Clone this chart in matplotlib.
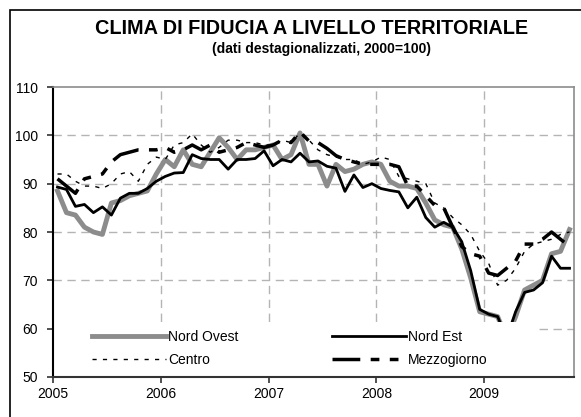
"""
Clima di fiducia a livello territoriale (dati destagionalizzati, 2000=100)
"""

import numpy as np
import matplotlib
matplotlib.use("Agg")
import matplotlib.pyplot as plt
from matplotlib.patches import Rectangle

# monthly values, Jan 2005 - Oct 2009
nord_ovest = [88.5, 84.0, 83.5, 81.0, 80.0, 79.5, 86.0, 86.5, 87.5, 88.0, 88.5, 92.0,
              95.0, 93.5, 97.0, 94.0, 93.5, 96.5, 99.5, 97.5, 95.0, 97.0, 97.0, 97.5,
              98.0, 95.0, 96.0, 100.5, 94.0, 94.0, 89.5, 94.0, 92.5, 93.0, 94.0, 94.5,
              94.0, 90.5, 89.5, 89.5, 89.0, 86.0, 82.5, 81.5, 81.0, 76.5, 70.5, 63.5,
              63.0, 62.5, 58.0, 62.5, 68.0, 69.0, 70.0, 75.5, 76.0, 80.5]
nord_est = [89.3, 88.8, 85.3, 85.7, 84.0, 85.2, 83.5, 87.0, 88.0, 88.0, 89.0, 90.5,
            91.5, 92.2, 92.3, 96.0, 95.2, 95.0, 95.0, 93.0, 95.0, 95.0, 95.2, 96.8,
            93.7, 95.0, 94.5, 96.3, 94.5, 94.7, 93.6, 93.2, 88.4, 91.8, 89.2, 90.0,
            89.0, 88.6, 88.3, 85.0, 87.2, 83.0, 81.0, 82.0, 81.0, 78.0, 72.0, 64.0,
            63.0, 62.5, 58.0, 63.5, 67.5, 68.0, 69.5, 75.0, 72.5, 72.5]
centro = [92.0, 92.0, 90.5, 89.5, 89.5, 89.0, 90.0, 92.0, 92.5, 90.5, 94.0, 95.5,
          95.0, 98.0, 98.5, 100.3, 98.0, 96.5, 97.5, 99.0, 99.0, 98.5, 98.5, 98.0,
          98.0, 99.0, 98.5, 100.5, 99.0, 97.0, 96.0, 95.5, 95.0, 95.0, 94.0, 94.5,
          95.5, 95.0, 91.5, 91.0, 90.5, 90.0, 86.0, 85.0, 83.0, 81.5, 79.5, 76.0,
          73.5, 69.0, 70.0, 72.5, 76.0, 77.5, 78.0, 78.5, 79.5, 80.0]
mezzogiorno = [91.0, 89.5, 88.0, 91.0, 91.5, 92.0, 94.5, 96.0, 96.5, 97.0, 97.0, 97.0,
               97.5, 96.5, 97.0, 98.0, 97.0, 98.0, 96.5, 97.0, 97.5, 98.5, 98.0, 97.5,
               98.0, 99.0, 98.5, 100.7, 98.8, 98.5, 97.3, 95.8, 95.0, 94.5, 94.0, 94.0,
               94.0, 94.0, 93.5, 89.5, 89.5, 87.5, 85.5, 85.0, 81.0, 77.0, 75.5, 75.0,
               71.5, 71.0, 72.5, 74.0, 77.5, 77.5, 78.5, 80.0, 78.5, 77.0]
years = ["2005", "2006", "2007", "2008", "2009"]
y_ticks = [50, 60, 70, 80, 90, 100, 110]


def plot_clima() -> plt.Figure:
    """Draw the chart and return the figure."""
    plt.rcParams["font.family"] = ["Liberation Sans", "DejaVu Sans"]
    fig = plt.figure(figsize=(5.81, 4.17), dpi=100)
    ax = fig.add_axes([53 / 581, 1 - 377 / 417, 521 / 581, 290 / 417])

    x = np.arange(len(nord_ovest))
    l_no, = ax.plot(x, nord_ovest, color="#8c8c8c", lw=3.5, zorder=2)
    l_ne, = ax.plot(x, nord_est, color="black", lw=2.0, zorder=3)
    l_ce, = ax.plot(x, centro, color="black", lw=1.0, dashes=(3, 4.5), zorder=4)
    l_me, = ax.plot(x, mezzogiorno, color="black", lw=2.5,
                    dashes=(8, 3, 2.5, 3, 2.5, 3), zorder=4)

    ax.set_xlim(-0.5, 57.5)
    ax.set_ylim(50, 110)
    ax.set_xticks([-0.5 + 12 * k for k in range(len(years))])
    ax.set_xticklabels(years, fontsize=10)
    ax.set_yticks(y_ticks)
    ax.set_yticklabels([str(v) for v in y_ticks], fontsize=10)
    ax.tick_params(direction="out", length=4, width=1.2, color="#333333")
    ax.tick_params(axis="y", pad=7)
    ax.tick_params(axis="x", pad=3.5)

    # dashed grid, skipping the lines that sit on the frame
    for yv in y_ticks[1:-1]:
        ax.axhline(yv, color="#b4b4b4", lw=1, dashes=(6, 4), zorder=1)
    for xv in ax.get_xticks()[1:]:
        ax.axvline(xv, color="#b4b4b4", lw=1, dashes=(6, 4), zorder=1)

    for side in ["top", "right"]:
        ax.spines[side].set_color("#8c8c8c")
        ax.spines[side].set_linewidth(1.2)
    ax.spines["left"].set_color("black")
    ax.spines["bottom"].set_color("#333333")
    ax.spines["left"].set_linewidth(1.5)
    ax.spines["bottom"].set_linewidth(1.5)
    for sp in ax.spines.values():
        sp.set_zorder(10)

    # white legend area covering the bottom of the plot
    ax.add_patch(Rectangle((0, 0), 0.929, 0.19, transform=ax.transAxes,
                           facecolor="white", edgecolor="none", zorder=6))
    leg = ax.legend([l_no, l_ce, l_ne, l_me],
                    ["Nord Ovest", "Centro", "Nord Est", "Mezzogiorno"],
                    ncol=2, loc="upper left", bbox_to_anchor=(0.075, 0.162),
                    frameon=False, fontsize=10, handlelength=5.3,
                    handletextpad=0.2, columnspacing=6.7, labelspacing=0.62,
                    borderpad=0, borderaxespad=0)
    leg.set_zorder(7)

    fig.text(0.537, 1 - 28 / 417, "CLIMA DI FIDUCIA A LIVELLO TERRITORIALE",
             ha="center", va="center", fontsize=14.3, fontweight="bold")
    fig.text(0.553, 1 - 49 / 417, "(dati destagionalizzati, 2000=100)",
             ha="center", va="center", fontsize=10, fontweight="bold")

    # outer chart frame (left and top edges visible)
    fig.patches.append(Rectangle((10 / 581, -0.1), 1.0, 1 - 10 / 417 + 0.1,
                                 transform=fig.transFigure, fill=False,
                                 edgecolor="black", lw=1.2))
    return fig


if __name__ == "__main__":
    fig = plot_clima()
    fig.savefig("out.png", dpi=100)
